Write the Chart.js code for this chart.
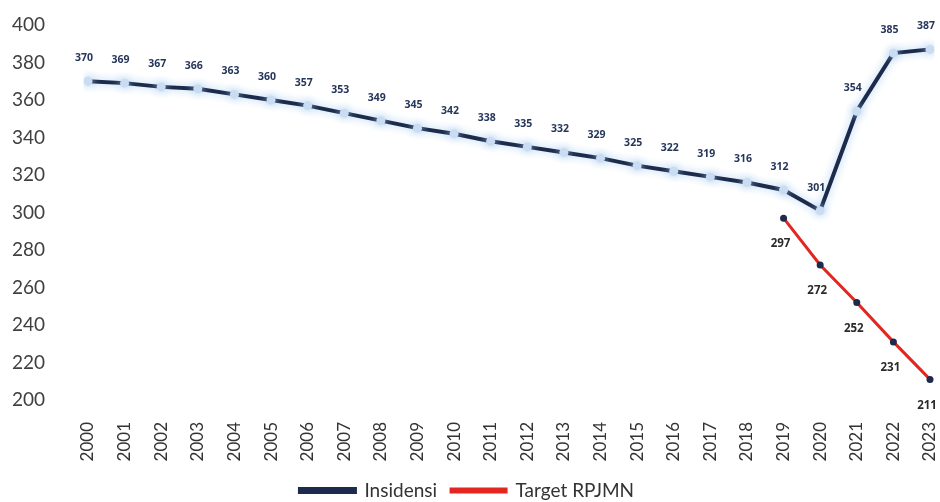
<!DOCTYPE html>
<html>
<head>
<meta charset="utf-8">
<script src="https://cdn.jsdelivr.net/npm/chart.js@4"></script>
<style>
  body { margin: 0; background: #fff; }
  #wrap { width: 940px; height: 502px; }
</style>
</head>
<body>
<div id="wrap"><canvas id="grafik" width="940" height="502"></canvas></div>
<script>
// data
const tahun = ['2000','2001','2002','2003','2004','2005','2006','2007','2008','2009','2010','2011',
               '2012','2013','2014','2015','2016','2017','2018','2019','2020','2021','2022','2023'];
const insidensi = [370,369,367,366,363,360,357,353,349,345,342,338,335,332,329,325,322,319,316,312,301,354,385,387];
const targetRpjmn = [null,null,null,null,null,null,null,null,null,null,null,null,
                     null,null,null,null,null,null,null,297,272,252,231,211];
const tickY = [200,220,240,260,280,300,320,340,360,380,400];

const navy = '#1c2b4c';
const biruMuda = '#c9dcf2';
const merah = '#e3261f';

// glow biru muda di garis insidensi (efek excel)
const glowPlugin = {
  id: 'glow',
  beforeDatasetDraw(chart, args) {
    if (args.index !== 0) return;
    const ctx = chart.ctx;
    ctx.save();
    ctx.shadowColor = 'rgba(170,205,240,0.95)';
    ctx.shadowBlur = 9;
  },
  afterDatasetDraw(chart, args) {
    if (args.index !== 0) return;
    chart.ctx.restore();
  }
};

// label angka di tiap titik
const labelPlugin = {
  id: 'labelAngka',
  afterDatasetsDraw(chart) {
    const ctx = chart.ctx;
    ctx.save();
    ctx.textAlign = 'center';
    ctx.textBaseline = 'middle';
    chart.data.datasets.forEach((ds, i) => {
      const meta = chart.getDatasetMeta(i);
      meta.data.forEach((pt, j) => {
        const v = ds.data[j];
        if (v === null) return;
        if (i === 0) {
          ctx.font = 'bold 10.5px "Open Sans", sans-serif';
          ctx.fillStyle = '#26365a';
          ctx.fillText(v, pt.x - 4, pt.y - 23);
        } else {
          ctx.font = 'bold 11.5px "Open Sans", sans-serif';
          ctx.fillStyle = '#2a2a2a';
          ctx.fillText(v, pt.x - 3, pt.y + 26);
        }
      });
    });
    ctx.restore();
  }
};

const Canvas = document.getElementById('grafik');

const chart = new Chart(Canvas, {
  type: 'line',
  data: {
    labels: tahun,
    datasets: [{
      label: 'Insidensi',
      data: insidensi,
      borderColor: navy,
      backgroundColor: navy,
      borderWidth: 4,
      pointRadius: 4.5,
      pointBackgroundColor: biruMuda,
      pointBorderWidth: 0,
      tension: 0
    }, {
      label: 'Target RPJMN',
      data: targetRpjmn,
      borderColor: merah,
      backgroundColor: merah,
      borderWidth: 3,
      pointRadius: 3.5,
      pointBackgroundColor: navy,
      pointBorderWidth: 0,
      tension: 0
    }]
  },
  options: {
    responsive: false,
    animation: false,
    layout: { padding: { top: 25, left: 4, right: 10, bottom: -8 } },
    scales: {
      x: {
        offset: false,
        grid: { display: false },
        border: { display: false },
        afterFit: (s) => { s.height = 67; s.paddingLeft = 0; s.paddingRight = 0; },
        ticks: {
          minRotation: 90, maxRotation: 90, padding: 14,
          color: '#333', font: { family: 'Lato, sans-serif', size: 17 }
        }
      },
      y: {
        min: 200, max: 400,
        grid: { display: false },
        border: { display: false },
        afterBuildTicks: (axis) => { axis.ticks = tickY.map(v => ({ value: v })); },
        afterFit: (s) => { s.width = 84; s.paddingTop = 0; s.paddingBottom = 0; },
        ticks: {
          padding: 35,
          color: '#404040', font: { family: 'Lato, sans-serif', size: 19 }
        }
      }
    },
    plugins: {
      legend: {
        position: 'bottom',
        labels: {
          boxWidth: 55, boxHeight: 3, padding: 14,
          color: '#333', font: { family: 'Lato, sans-serif', size: 19 }
        }
      },
      tooltip: { enabled: false }
    }
  },
  plugins: [glowPlugin, labelPlugin]
});
</script>
</body>
</html>
